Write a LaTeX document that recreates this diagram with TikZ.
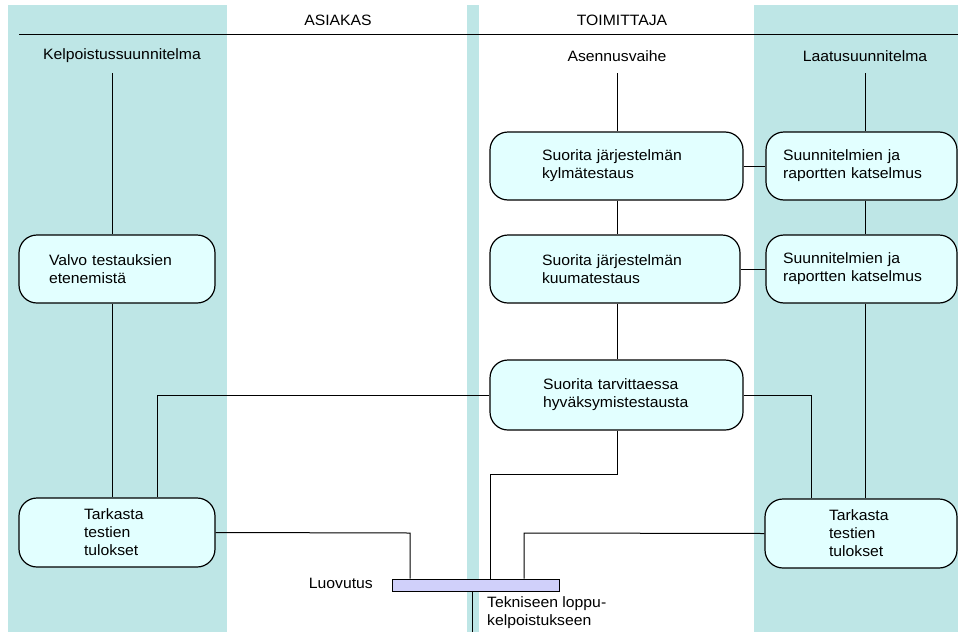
\documentclass[tikz,border=0pt]{standalone}
\usepackage{fontspec}
\setmainfont{Liberation Sans}[FakeStretch=1.05]
\usetikzlibrary{calc}
\definecolor{lane}{RGB}{190,230,230}
\definecolor{boxfill}{RGB}{226,255,255}
\definecolor{barfill}{RGB}{208,208,250}

\begin{document}
\begin{tikzpicture}[x=1pt,y=-1pt,
  font=\fontsize{15}{18}\selectfont,
  task/.style={draw=black, line width=1.2pt, fill=boxfill, rounded corners=18pt,
    inner sep=0pt, align=left, minimum height=68pt},
  link/.style={line width=1pt},
  head/.style={inner sep=0pt}]
\useasboundingbox (0,0) rectangle (958,632);

% swimlane backgrounds
\fill[lane] (8,5) rectangle (227,632);
\fill[lane] (467,5) rectangle (479,632);
\fill[lane] (754,5) rectangle (958,632);

% header rule and titles
\coordinate (ruleL) at (19,34);
\coordinate (ruleR) at (958,34);
\draw[link] (ruleL) -- (ruleR);
\node[head] (asiakas) at (338,20) {ASIAKAS};
\node[head] (toimittaja) at (622,20) {TOIMITTAJA};
\node[head] (kelp) at (122,56) {Kelpoistussuunnitelma};
\node[head] (asennus) at (617,56) {Asennusvaihe};
\node[head] (laatu) at (865,56) {Laatusuunnitelma};

% line origins below the column titles
\coordinate (kTop) at (112,73);
\coordinate (aTop) at (617,73);
\coordinate (lTop) at (865,73);

% activity boxes
\node[task, minimum width=196pt, text width=136pt] (valvo) at (117,269)
  {Valvo testauksien\\etenemistä};
\node[task, minimum width=196pt, minimum height=69pt, text width=66pt] (tarkL) at (117,532.5)
  {Tarkasta\\testien\\tulokset};
\node[task, minimum width=253pt, text width=149pt] (kylma) at (616.5,166)
  {Suorita järjestelmän\\kylmätestaus};
\node[task, minimum width=250pt, text width=146pt] (kuuma) at (615,269)
  {Suorita järjestelmän\\kuumatestaus};
\node[task, minimum width=253pt, minimum height=70pt, text width=147pt] (hyv) at (616.5,395)
  {Suorita tarvittaessa\\hyväksymistestausta};
\node[task, minimum width=191pt, text width=157pt] (suun1) at (861.5,166)
  {Suunnitelmien ja\\raportten katselmus};
\node[task, minimum width=191pt, text width=157pt] (suun2) at (861.5,269)
  {Suunnitelmien ja\\raportten katselmus};
\node[task, minimum width=192pt, minimum height=69pt, text width=64pt] (tarkR) at (861,533.5)
  {Tarkasta\\testien\\tulokset};

% handover bar
\node[draw=black, line width=1pt, fill=barfill, inner sep=0pt,
  minimum width=167pt, minimum height=12pt] (bar) at (475.5,585) {};
\node[head, anchor=east] (luovutus) at (373,583) {Luovutus};
\node[head, anchor=north west, align=left] (tekn) at (487,596)
  {Tekniseen loppu-\\kelpoistukseen};

% bend and drop points
\coordinate (jL) at (157,395);
\coordinate (jR) at (811,395);
\coordinate (mBend) at (490,474);
\coordinate (dropL) at (410,533);
\coordinate (dropR) at (524,533);
\coordinate (exit) at (472,632);

% customer column
\draw[link] (kTop) -- (kTop |- valvo.north);
\draw[link] (kTop |- valvo.south) -- (kTop |- tarkL.north);
\draw[link] (hyv.west) -- (jL) -- (jL |- tarkL.north);
\draw[link] (tarkL.east) -- (dropL) -- (dropL |- bar.north);

% supplier column
\draw[link] (aTop) -- (aTop |- kylma.north);
\draw[link] (aTop |- kylma.south) -- (aTop |- kuuma.north);
\draw[link] (aTop |- kuuma.south) -- (aTop |- hyv.north);
\draw[link] (aTop |- hyv.south) -- (aTop |- mBend) -- (mBend) -- (mBend |- bar.north);
\draw[link] (kylma.east) -- (suun1.west);
\draw[link] (kuuma.east) -- (suun2.west);

% quality column
\draw[link] (lTop) -- (lTop |- suun1.north);
\draw[link] (lTop |- suun1.south) -- (lTop |- suun2.north);
\draw[link] (lTop |- suun2.south) -- (lTop |- tarkR.north);
\draw[link] (hyv.east) -- (jR) -- (jR |- tarkR.north);
\draw[link] (tarkR.west) -- (dropR) -- (dropR |- bar.north);

% exit below the bar
\draw[link] (exit |- bar.south) -- (exit);
\end{tikzpicture}
\end{document}
